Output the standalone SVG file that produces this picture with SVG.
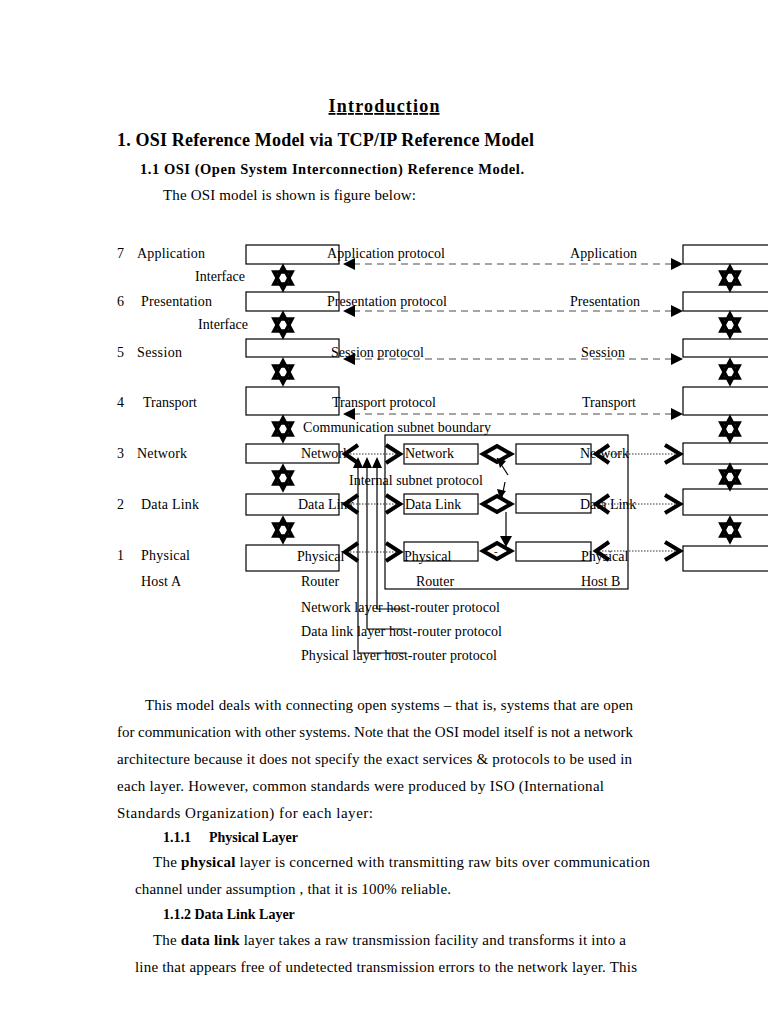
<svg xmlns="http://www.w3.org/2000/svg" xmlns:xlink="http://www.w3.org/1999/xlink" width="768" height="1024" viewBox="0 0 768 1024">
<style>
text{font-family:"Liberation Serif","Times New Roman",serif;fill:#000}
.t{font-size:14px}
.b{font-size:15px}
.h{font-size:14px;font-weight:bold}
.box{fill:#fff;stroke:#000;stroke-width:1.2}
.dash{stroke:#888;stroke-width:1.5;stroke-dasharray:7 5;fill:none}
.dot{stroke:#333;stroke-width:1;stroke-dasharray:1.5 1.5;fill:none}
.chev{fill:none;stroke:#000;stroke-width:4;stroke-linejoin:miter}
.thin{stroke:#000;stroke-width:1.2;fill:none}
</style>
<defs>
<g id="iface">
<polygon points="0,-11 9,6 -9,6" fill="none" stroke="#000" stroke-width="3.5"/>
<polygon points="0,11 9,-6 -9,-6" fill="none" stroke="#000" stroke-width="3.5"/>
</g>
</defs>

<!-- headings -->
<text x="384" y="112" text-anchor="middle" font-size="18" font-weight="bold" text-decoration="underline" textLength="111">Introduction</text>
<text x="117" y="146" font-size="18" font-weight="bold" textLength="417">1.  OSI Reference Model via TCP/IP Reference Model</text>
<text x="140" y="174" font-size="14.5" font-weight="bold" textLength="384">1.1  OSI (Open System Interconnection) Reference Model.</text>
<text x="163" y="200" class="b" textLength="253">The OSI model is shown is figure below:</text>

<!-- layer labels -->
<g id="layer-labels">
<text x="117" y="258" class="t">7</text><text x="137" y="258" class="t" textLength="68">Application</text>
<text x="117" y="306" class="t">6</text><text x="141" y="306" class="t" textLength="71">Presentation</text>
<text x="117" y="357" class="t">5</text><text x="137" y="357" class="t" textLength="45">Session</text>
<text x="117" y="407" class="t">4</text><text x="143" y="407" class="t" textLength="54">Transport</text>
<text x="117" y="458" class="t">3</text><text x="137" y="458" class="t" textLength="50">Network</text>
<text x="117" y="509" class="t">2</text><text x="141" y="509" class="t" textLength="58">Data Link</text>
<text x="117" y="560" class="t">1</text><text x="141" y="560" class="t" textLength="49">Physical</text>
<text x="141" y="586" class="t" textLength="40">Host A</text>
<text x="195" y="281" class="t" textLength="50">Interface</text>
<text x="198" y="329" class="t" textLength="50">Interface</text>
</g>

<!-- subnet boundary -->
<g id="subnet">
<rect x="385" y="435" width="243" height="154" class="thin"/>
</g>

<!-- host A boxes -->
<g id="hostA">
<rect x="246" y="245" width="93" height="19" class="box"/>
<rect x="246" y="292" width="93" height="19" class="box"/>
<rect x="246" y="339" width="93" height="18" class="box"/>
<rect x="246" y="387" width="93" height="28" class="box"/>
<rect x="246" y="444" width="93" height="19" class="box"/>
<rect x="246" y="494" width="93" height="21" class="box"/>
<rect x="246" y="545" width="93" height="26" class="box"/>
</g>

<!-- host B boxes -->
<g id="hostB">
<rect x="683" y="245" width="90" height="19" class="box"/>
<rect x="683" y="292" width="90" height="19" class="box"/>
<rect x="683" y="339" width="90" height="18" class="box"/>
<rect x="683" y="387" width="90" height="28" class="box"/>
<rect x="683" y="443" width="90" height="21" class="box"/>
<rect x="683" y="489" width="90" height="26" class="box"/>
<rect x="683" y="546" width="90" height="25" class="box"/>
</g>

<!-- router boxes -->
<g id="router1">
<rect x="404" y="444" width="74" height="20" class="box"/>
<rect x="404" y="494" width="74" height="20" class="box"/>
<rect x="404" y="542" width="74" height="19" class="box"/>
</g>
<g id="router2">
<rect x="516" y="444" width="75" height="20" class="box"/>
<rect x="516" y="494" width="75" height="19" class="box"/>
<rect x="516" y="542" width="75" height="19" class="box"/>
</g>

<!-- connectors -->
<g id="connectors">
<line x1="353" y1="264" x2="672" y2="264" class="dash"/>
<line x1="353" y1="311" x2="672" y2="311" class="dash"/>
<line x1="353" y1="359" x2="672" y2="359" class="dash"/>
<line x1="353" y1="414" x2="672" y2="414" class="dash"/>
<path d="M343,264 L355,258 L355,270 Z M683,264 L671,258 L671,270 Z"/>
<path d="M343,311 L355,305 L355,317 Z M683,311 L671,305 L671,317 Z"/>
<path d="M343,359 L355,353 L355,365 Z M683,359 L671,353 L671,365 Z"/>
<path d="M343,414 L355,408 L355,420 Z M683,414 L671,408 L671,420 Z"/>

<use xlink:href="#iface" x="283" y="278"/>
<use xlink:href="#iface" x="283" y="325"/>
<use xlink:href="#iface" x="283" y="372"/>
<use xlink:href="#iface" x="283" y="429"/>
<use xlink:href="#iface" x="283" y="478"/>
<use xlink:href="#iface" x="283" y="530"/>
<use xlink:href="#iface" x="730" y="278"/>
<use xlink:href="#iface" x="730" y="325"/>
<use xlink:href="#iface" x="730" y="372"/>
<use xlink:href="#iface" x="730" y="429"/>
<use xlink:href="#iface" x="730" y="477"/>
<use xlink:href="#iface" x="730" y="530"/>

<line x1="350" y1="454" x2="396" y2="454" class="dot"/>
<line x1="350" y1="504" x2="396" y2="504" class="dot"/>
<line x1="350" y1="552" x2="396" y2="552" class="dot"/>
<polyline points="358,445 345,454 358,463" class="chev"/>
<polyline points="386,445 400,454 386,463" class="chev"/>
<polyline points="358,495 345,504 358,513" class="chev"/>
<polyline points="386,495 400,504 386,513" class="chev"/>
<polyline points="358,543 345,552 358,561" class="chev"/>
<polyline points="386,543 400,552 386,561" class="chev"/>

<polygon points="483,454 497,446 511,454 497,462" class="chev"/>
<polygon points="483,504 497,496 511,504 497,512" class="chev"/>
<polygon points="483,551 497,543 511,551 497,559" class="chev"/>
<text x="494" y="555" font-size="11">-</text>
<line x1="497" y1="458" x2="508" y2="475" class="thin"/>
<path d="M497,458 L506,461 L500,468 Z"/>
<line x1="505" y1="482" x2="502" y2="497" class="thin"/>
<path d="M500,499 L497,489 L506,491 Z"/>
<line x1="506" y1="512" x2="506" y2="540" class="thin"/>
<path d="M506,547 L500,536 L512,536 Z"/>

<line x1="602" y1="454" x2="675" y2="454" class="dot"/>
<line x1="602" y1="504" x2="675" y2="504" class="dot"/>
<line x1="602" y1="551" x2="675" y2="551" class="dot"/>
<polyline points="609,445 596,454 609,463" class="chev"/>
<polyline points="665,445 680,454 665,463" class="chev"/>
<polyline points="609,495 596,504 609,513" class="chev"/>
<polyline points="665,495 680,504 665,513" class="chev"/>
<polyline points="609,542 596,551 609,560" class="chev"/>
<polyline points="665,542 680,551 665,560" class="chev"/>

<polyline points="358,467 358,653 405,653" class="thin"/>
<polyline points="367,467 367,629 405,629" class="thin"/>
<polyline points="377,467 377,609 403,609" class="thin"/>
<path d="M358,457 L353,468 L363,468 Z M367,457 L362,468 L372,468 Z M377,457 L372,468 L382,468 Z"/>
</g>

<!-- diagram labels -->
<g id="labels">
<text x="327" y="258" class="t" textLength="118">Application protocol</text>
<text x="570" y="258" class="t" textLength="67">Application</text>
<text x="327" y="306" class="t" textLength="120">Presentation protocol</text>
<text x="570" y="306" class="t" textLength="70">Presentation</text>
<text x="331" y="357" class="t" textLength="93">Session protocol</text>
<text x="581" y="357" class="t" textLength="44">Session</text>
<text x="332" y="407" class="t" textLength="104">Transport protocol</text>
<text x="582" y="407" class="t" textLength="54">Transport</text>
<text x="303" y="432" class="t" textLength="188">Communication subnet boundary</text>
<text x="349" y="485" class="t" textLength="134">Internal subnet protocol</text>
<text x="301" y="458" class="t">Network</text>
<text x="298" y="509" class="t">Data Link</text>
<text x="297" y="561" class="t">Physical</text>
<text x="405" y="458" class="t">Network</text>
<text x="405" y="509" class="t">Data Link</text>
<text x="404" y="561" class="t">Physical</text>
<text x="580" y="458" class="t">Network</text>
<text x="580" y="509" class="t">Data Link</text>
<text x="581" y="561" class="t">Physical</text>
<text x="301" y="586" class="t">Router</text>
<text x="416" y="586" class="t">Router</text>
<text x="581" y="586" class="t">Host B</text>
<text x="301" y="612" class="t" textLength="199">Network layer host-router protocol</text>
<text x="301" y="636" class="t" textLength="201">Data link layer host-router protocol</text>
<text x="301" y="660" class="t" textLength="196">Physical layer host-router protocol</text>
</g>

<!-- body text -->
<g id="body">
<text x="145" y="710" class="b" textLength="488">This model deals with connecting open systems – that is, systems that are open</text>
<text x="117" y="737" class="b" textLength="516">for communication with other systems. Note that the OSI model itself is not a network</text>
<text x="117" y="764" class="b" textLength="515">architecture because it does not specify the exact services &amp; protocols to be used in</text>
<text x="117" y="791" class="b" textLength="487">each layer. However, common standards  were produced by ISO (International</text>
<text x="117" y="818" class="b" textLength="256">Standards Organization) for each layer:</text>
<text x="163" y="842" class="h">1.1.1</text>
<text x="209" y="842" class="h">Physical Layer</text>
<text x="153" y="867" class="b" textLength="497">The <tspan font-weight="bold">physical</tspan> layer  is concerned with transmitting raw bits over communication</text>
<text x="135" y="894" class="b" textLength="316">channel under assumption , that it is 100% reliable.</text>
<text x="163" y="919" class="h">1.1.2 Data Link Layer</text>
<text x="153" y="945" class="b" textLength="473">The <tspan font-weight="bold">data link</tspan> layer takes a raw transmission facility and transforms it into a</text>
<text x="135" y="972" class="b" textLength="502">line that appears free of undetected transmission errors to the network layer. This</text>
</g>
</svg>
